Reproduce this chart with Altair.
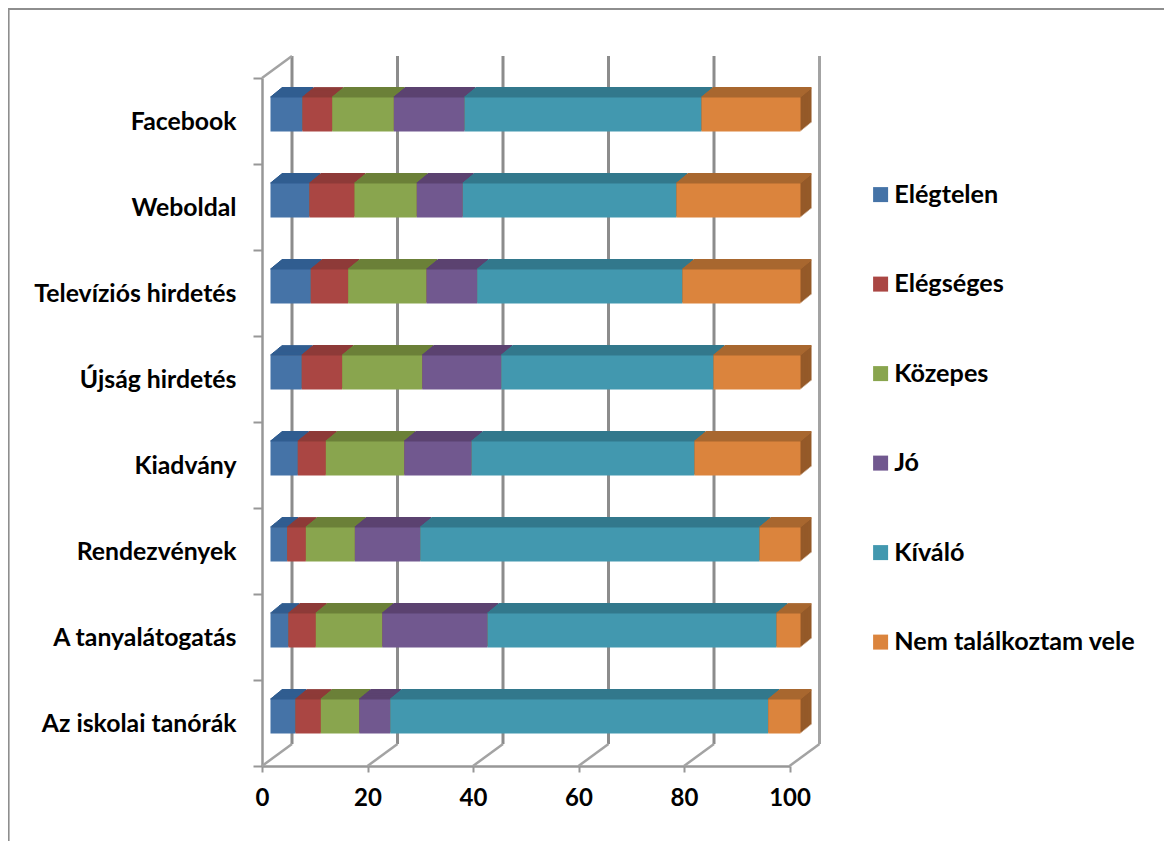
import altair as alt
import pandas as pd

categories = ["Facebook", "Weboldal", "Televíziós hirdetés", "Újság hirdetés",
              "Kiadvány", "Rendezvények", "A tanyalátogatás", "Az iskolai tanórák"]
series = ["Elégtelen", "Elégséges", "Közepes", "Jó", "Kíváló", "Nem találkoztam vele"]

elegtelen = [6.07, 7.39, 7.64, 5.93, 5.18, 3.17, 3.41, 4.74]
elegseges = [5.63, 8.53, 7.09, 7.66, 5.31, 3.53, 5.18, 4.80]
kozepes = [11.68, 11.81, 14.84, 15.17, 14.86, 9.29, 12.59, 7.28]
jo = [13.40, 8.72, 9.61, 14.98, 12.76, 12.40, 19.96, 5.88]
kivalo = [44.93, 40.51, 38.92, 40.25, 42.27, 64.32, 54.79, 71.66]
nem = [18.77, 23.51, 22.37, 16.49, 20.09, 7.77, 4.55, 6.12]
all_values = [elegtelen, elegseges, kozepes, jo, kivalo, nem]

front_colors = ["#4573A7", "#AA4643", "#89A54E", "#71588F", "#4298AF", "#DB843D"]
top_colors = ["#305D90", "#8E3A38", "#6B8038", "#5B4270", "#32788C", "#A8672F"]
side_color = "#955A29"
ticks = [0, 20, 40, 60, 80, 100]

rows = []
for si, name in enumerate(series):
    for ci, cat in enumerate(categories):
        rows.append({"cat": cat, "series": name, "order": si, "value": all_values[si][ci],
                     "top": top_colors[si], "side": side_color})
df = pd.DataFrame(rows)
tick_df = pd.DataFrame({"v": ticks})

PW, PH = 527.5, 688
FONT = "Lato"
GREY = "#979797"

xscale = alt.Scale(domain=[0, 100], range=[0, PW], nice=False, zero=True)
yscale = alt.Scale(domain=categories, paddingInner=0, paddingOuter=0)
y_axis = alt.Axis(
    tickBand="extent", domainColor=GREY, domainWidth=2.5, tickColor=GREY, tickWidth=2,
    tickSize=9, labelPadding=17, labelOffset=1, labelFont=FONT, labelFontWeight="bold", labelFontSize=24.8,
    labelColor="black", labelLimit=300, grid=False, title=None)
x_axis = alt.Axis(
    values=ticks, domainColor=GREY, domainWidth=2.5, tickColor=GREY, tickWidth=2,
    tickSize=6, labelPadding=14, labelFlush=False, labelFont=FONT, labelFontWeight="bold", labelFontSize=24,
    labelColor="black", grid=False, title=None)
X = alt.X("value:Q", stack="zero", scale=xscale, title=None, axis=x_axis)
Y = alt.Y("cat:N", scale=yscale, sort=categories, title=None, axis=y_axis)
Xn = alt.X("value:Q", stack="zero", scale=xscale, title=None, axis=None)
Yn = alt.Y("cat:N", scale=yscale, sort=categories, title=None, axis=None)
Xt = alt.X("v:Q", scale=xscale, title=None, axis=None)


def bar_mark(dx, dy, size):
    return alt.MarkDef(type="bar", size=size, xOffset=dx, x2Offset=dx, yOffset=dy, y2Offset=dy,
                       strokeWidth=0, cornerRadius=0, clip=False)


layers = []

# outer frame (top and left edges; the rest runs off the page)
layers.append(alt.Chart(pd.DataFrame({"a": [0]})).mark_rect(
    fillOpacity=0, stroke="#8E8E8E", strokeWidth=2.2).encode(
    x=alt.value(-253.5), x2=alt.value(1000), y=alt.value(-69), y2=alt.value(900)))

# back wall lines
for v_color, subset in [("#8C8C8C", ticks[:-1]), ("#A3A3A3", ticks[-1:])]:
    layers.append(alt.Chart(pd.DataFrame({"v": subset})).mark_rule(
        color=v_color, strokeWidth=3, xOffset=30).encode(
        x=Xt, y=alt.value(-22), y2=alt.value(PH - 22)))

# floor diagonals
layers.append(alt.Chart(tick_df).mark_rule(color="#A3A3A3", strokeWidth=2.5, x2Offset=30).encode(
    x=Xt, x2=alt.X2("v:Q"), y=alt.value(PH), y2=alt.value(PH - 22)))
# left wall diagonal
layers.append(alt.Chart(pd.DataFrame({"v": [0]})).mark_rule(color="#A3A3A3", strokeWidth=2.5, x2Offset=30).encode(
    x=Xt, x2=alt.X2("v:Q"), y=alt.value(0), y2=alt.value(-22)))

BASE_DX, BASE_DY, BAR_H = 8.5, -6.5, 34
DEPTH = 9
# right side faces
for k in range(DEPTH, 0, -1):
    layers.append(alt.Chart(df, mark=bar_mark(BASE_DX + k * 11 / 9, BASE_DY - k, BAR_H)).encode(
        x=Xn, y=Yn, color=alt.Color("side:N", scale=None), order=alt.Order("order:Q")))
# top faces
for k in range(DEPTH, -1, -1):
    layers.append(alt.Chart(df, mark=bar_mark(BASE_DX + k * 11 / 9, BASE_DY - BAR_H / 2 - k - 0.5, 1.8)).encode(
        x=Xn, y=Yn, color=alt.Color("top:N", scale=None), order=alt.Order("order:Q")))
# front faces
layers.append(alt.Chart(df, mark=bar_mark(BASE_DX, BASE_DY, BAR_H)).encode(
    x=X, y=Y,
    color=alt.Color("series:N", scale=alt.Scale(domain=series, range=front_colors), sort=series,
                    legend=alt.Legend(title=None, orient="none", legendX=606, legendY=104,
                                      symbolType="square", symbolSize=225, symbolStrokeWidth=0,
                                      symbolOpacity=1, labelFont=FONT, labelFontWeight="bold",
                                      labelFontSize=25.2, labelColor="black", labelLimit=300,
                                      labelOffset=1, rowPadding=63.5, columns=1)),
    order=alt.Order("order:Q")))

chart = alt.layer(*layers).resolve_axis(x="independent", y="independent").properties(
    width=PW, height=PH,
    padding={"left": 254, "top": 70, "right": 374, "bottom": 75},
    background="white",
    autosize=alt.AutoSizeParams(type="none"),
).configure_view(stroke=None)

chart.save("out.html", embed_options={"renderer": "svg", "actions": False})
